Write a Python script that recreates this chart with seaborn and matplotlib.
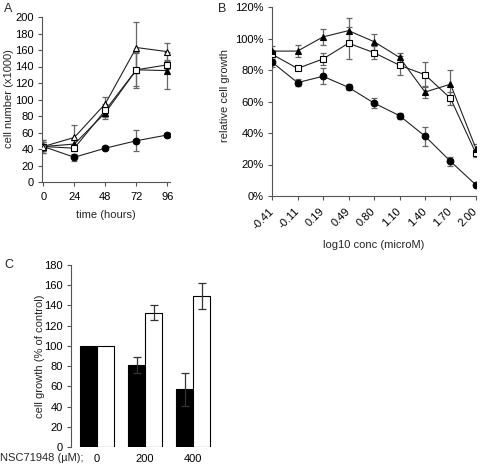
import numpy as np
import pandas as pd
import seaborn as sns
import matplotlib
matplotlib.use("Agg")
import matplotlib.pyplot as plt

# ---- Panel A data: cell number (x1000) over time
hours = [0, 24, 48, 72, 96]
a_tri_open = [43, 54, 95, 163, 158]
a_tri_open_err = [8, 15, 8, 31, 10]
a_square = [43, 41, 87, 136, 142]
a_square_err = [6, 3, 8, 20, 5]
a_tri_fill = [43, 46, 84, 136, 135]
a_tri_fill_err = [8, 5, 8, 22, 22]
a_circle = [43, 30, 41, 50, 57]
a_circle_err = [5, 4, 2, 13, 3]

# ---- Panel B data: relative cell growth (%) vs log10 conc
conc_labels = ["-0.41", "-0.11", "0.19", "0.49", "0.80", "1.10", "1.40", "1.70", "2.00"]
b_tri_fill = [92, 92, 101, 105, 98, 88, 66, 71, 30]
b_tri_fill_err = [3, 4, 5, 8, 5, 3, 4, 9, 3]
b_square = [90, 81, 87, 97, 91, 83, 77, 62, 27]
b_square_err = [3, 1, 4, 10, 4, 6, 8, 4, 2]
b_circle = [85, 72, 76, 69, 59, 51, 38, 22, 7]
b_circle_err = [3, 2, 5, 2, 3, 2, 6, 3, 1]

# ---- Panel C data: cell growth (% of control)
doses = ["0", "200", "400"]
c_black = [100, 81, 57]
c_black_err = [0, 8, 16]
c_white = [100, 133, 149]
c_white_err = [0, 7, 13]

sns.set_style("ticks")
plt.rcParams['font.family'] = ['Liberation Sans', 'DejaVu Sans']
plt.rcParams['font.size'] = 8
plt.rcParams['axes.linewidth'] = 0.8
plt.rcParams['axes.edgecolor'] = '#555555'
plt.rcParams['xtick.major.size'] = 3
plt.rcParams['ytick.major.size'] = 3
plt.rcParams['xtick.major.width'] = 0.8
plt.rcParams['ytick.major.width'] = 0.8
plt.rcParams['xtick.color'] = '#555555'
plt.rcParams['ytick.color'] = '#555555'
plt.rcParams['xtick.labelcolor'] = 'black'
plt.rcParams['ytick.labelcolor'] = 'black'
plt.rcParams['xtick.major.pad'] = 4
plt.rcParams['ytick.major.pad'] = 3

W, H = 481, 472
fig = plt.figure(figsize=(W / 100, H / 100), dpi=100)


def px_axes(x0, y0, x1, y1):
    return fig.add_axes([x0 / W, 1 - y1 / H, (x1 - x0) / W, (y1 - y0) / H])


def place_ylabel(ax, text, x_px, y_px):
    # x_px is the centre of the rotated label
    ax.set_ylabel(text, va='center')
    ax.yaxis.set_label_coords(x_px / W, 1 - y_px / H, transform=fig.transFigure)


def series(ax, x, y, err, marker, face, ms):
    df = pd.DataFrame({"x": x, "y": y})
    ax.errorbar(x, y, yerr=err, fmt='none', ecolor='#666666', elinewidth=0.9,
                capsize=2.5, capthick=0.9, zorder=2)
    sns.lineplot(data=df, x="x", y="y", ax=ax, color='#222222', linewidth=0.8,
                 marker=marker, markersize=ms, markerfacecolor=face,
                 markeredgecolor='black', markeredgewidth=0.8, zorder=3)


# ---------------- Panel A
axA = px_axes(42, 17, 170, 182)
series(axA, hours, a_circle, a_circle_err, 'o', 'black', 4.8)
series(axA, hours, a_tri_fill, a_tri_fill_err, '^', 'black', 5)
series(axA, hours, a_square, a_square_err, 's', 'white', 4.8)
series(axA, hours, a_tri_open, a_tri_open_err, '^', 'white', 5)
axA.set_xlim(-1, 98)
axA.set_ylim(0, 200)
axA.set_xticks(hours)
axA.set_yticks(range(0, 201, 20))
axA.set_xlabel("time (hours)", labelpad=6)
place_ylabel(axA, "cell number (x1000)", 9, 99)
sns.despine(ax=axA)
fig.text(4 / W, 1 - 9 / H, "A", fontsize=9, va='center')

# ---------------- Panel B
axB = px_axes(272, 7, 476, 196)
xb = list(range(len(conc_labels)))
series(axB, xb, b_circle, b_circle_err, 'o', 'black', 4.8)
series(axB, xb, b_square, b_square_err, 's', 'white', 4.8)
series(axB, xb, b_tri_fill, b_tri_fill_err, '^', 'black', 5)
axB.set_xlim(0, 8)
axB.set_ylim(0, 120)
axB.set_xticks(xb)
axB.set_xticklabels(conc_labels, rotation=45, ha='right', va='center',
                    rotation_mode='anchor')
axB.tick_params(axis='x', pad=7)
axB.set_yticks(range(0, 121, 20))
axB.set_yticklabels([f"{v}%" for v in range(0, 121, 20)])
axB.set_xlabel("log10 conc (microM)", labelpad=6)
place_ylabel(axB, "relative cell growth", 225, 96)
axB.spines['right'].set_visible(False)
axB.spines['top'].set_visible(False)
fig.text(218 / W, 1 - 9 / H, "B", fontsize=9, va='center')

# ---------------- Panel C
axC = px_axes(71, 265, 215, 447)
dfC = pd.DataFrame({
    "dose": doses * 2,
    "val": c_black + c_white,
    "grp": ["black"] * 3 + ["white"] * 3,
})
sns.barplot(data=dfC, x="dose", y="val", hue="grp", ax=axC, width=0.71,
            palette={"black": "black", "white": "white"}, edgecolor='black',
            linewidth=0.8, legend=False, errorbar=None, saturation=1)
bars = [p for p in axC.patches if p.get_height() > 0]
errs = c_black_err + c_white_err
for p, e in zip(bars, errs):
    if e > 0:
        axC.errorbar(p.get_x() + p.get_width() / 2, p.get_height(), yerr=e,
                     fmt='none', ecolor='#333333', elinewidth=0.9,
                     capsize=3, capthick=0.9)
axC.set_xlim(-0.54, 2.45)
axC.set_ylim(0, 180)
axC.set_yticks(range(0, 181, 20))
axC.set_xlabel("")
place_ylabel(axC, "cell growth (% of control)", 40, 356)
axC.tick_params(axis='x', length=0, pad=5)
sns.despine(ax=axC, bottom=True)
fig.text(4 / W, 1 - 265 / H, "C", fontsize=9, va='center')
fig.text(0 / W, 1 - 458 / H, "NSC71948 (\u00b5M);", fontsize=8, va='center')

fig.savefig("out.png", dpi=100)
